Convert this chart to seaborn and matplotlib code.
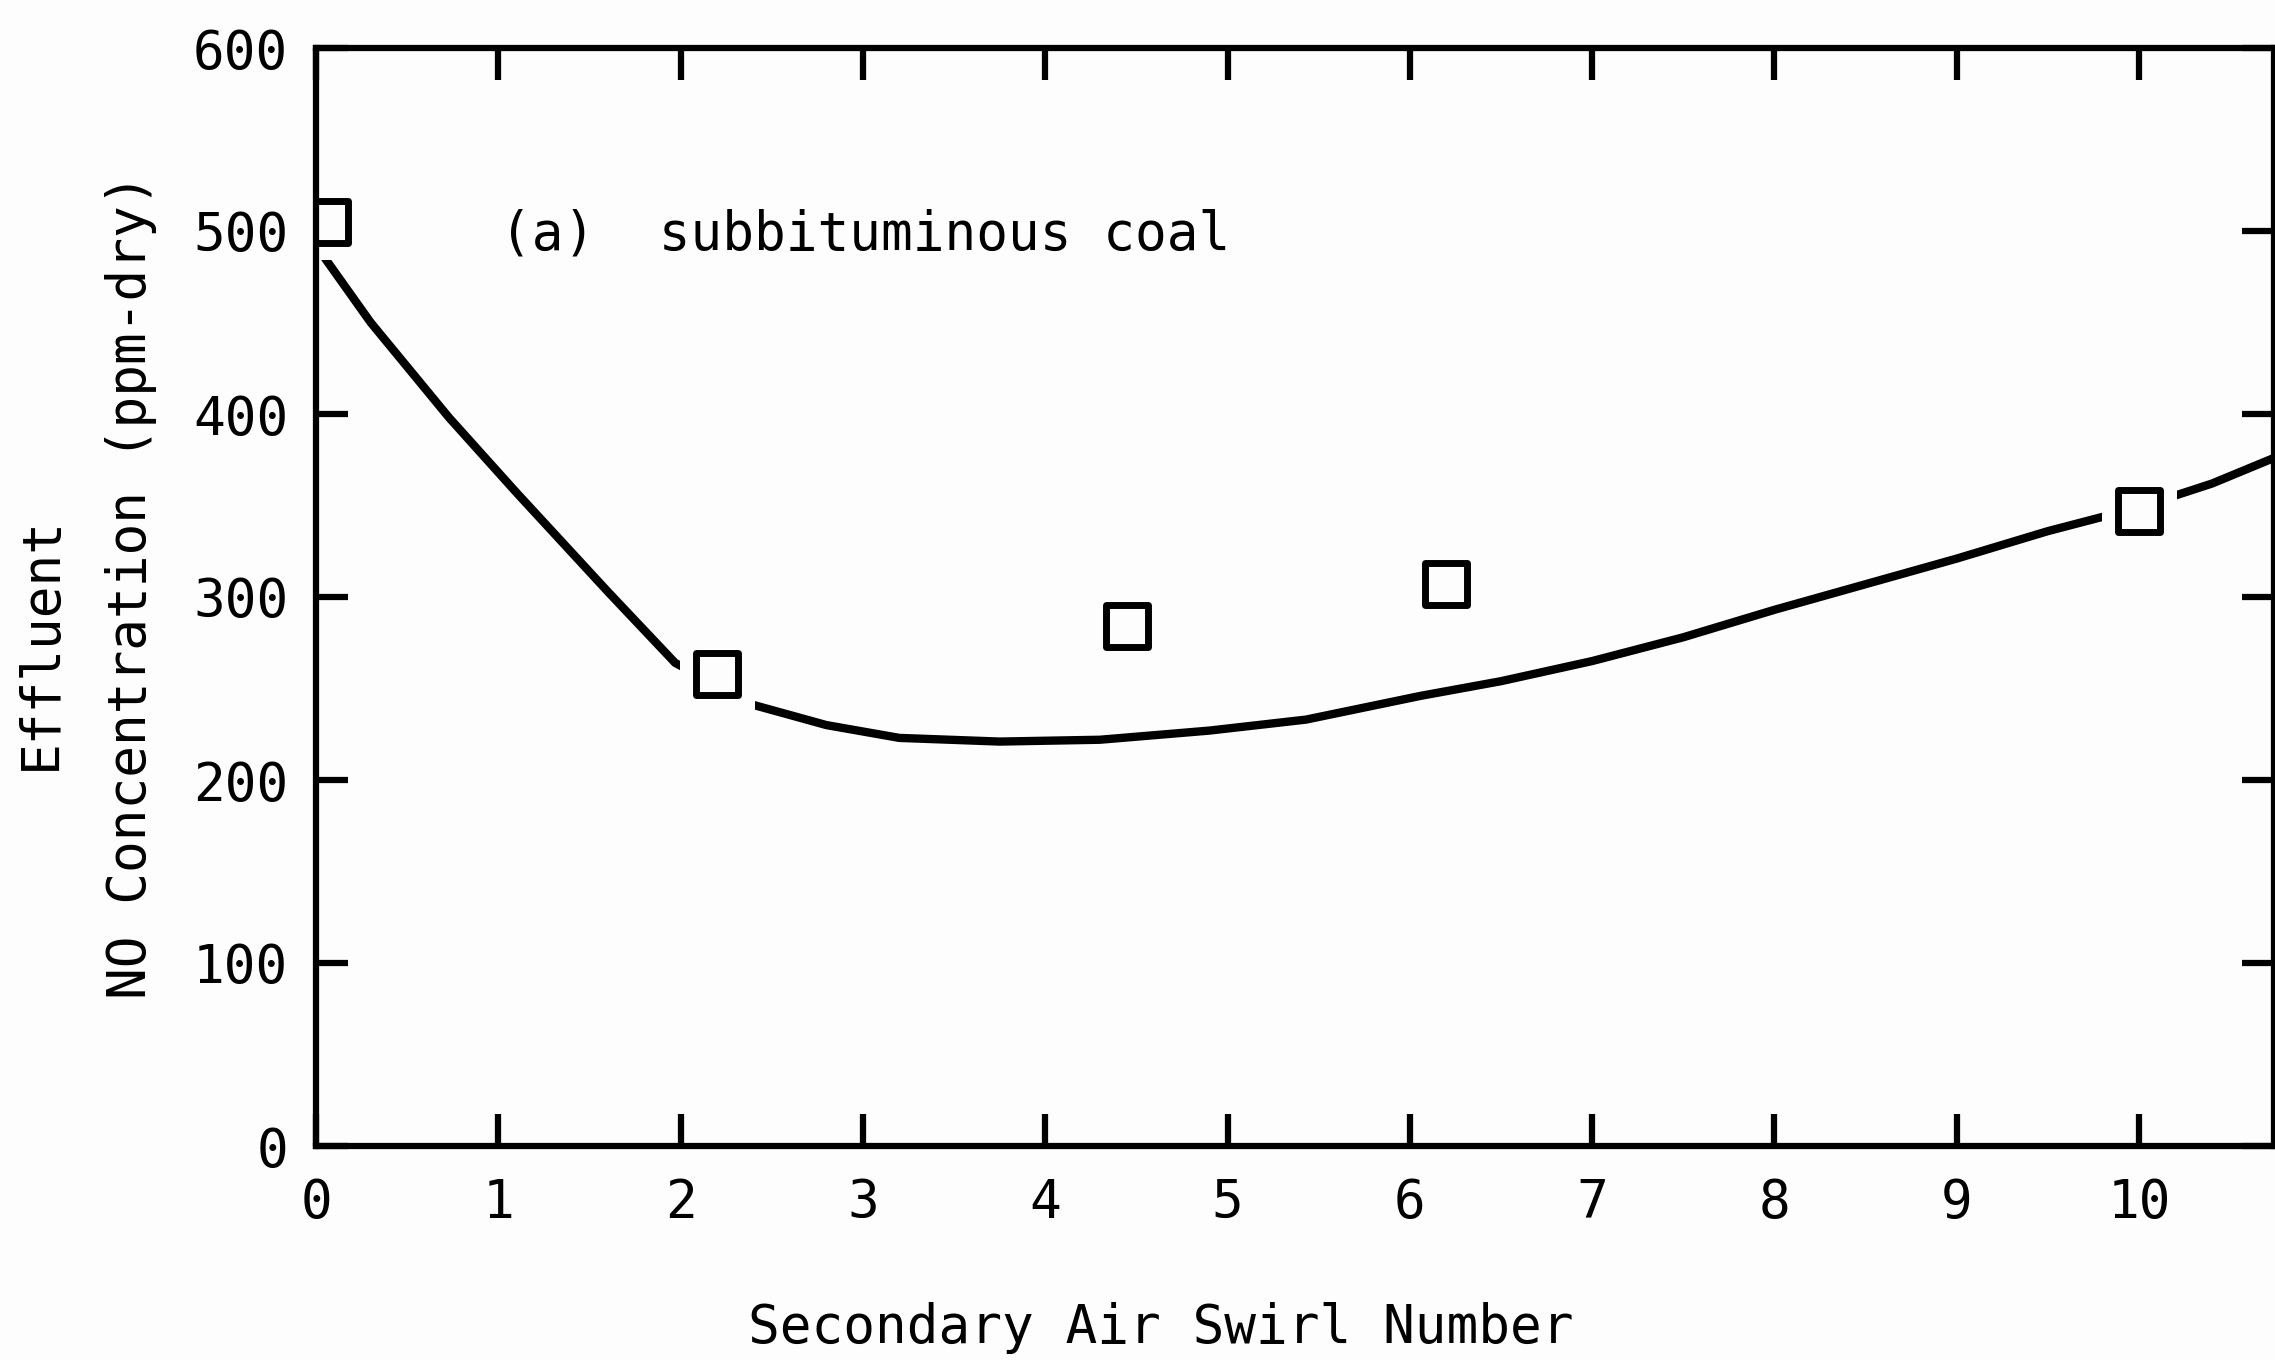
import matplotlib
matplotlib.use("Agg")
import matplotlib.pyplot as plt
import seaborn as sns
import pandas as pd

# ---- data ----
swirl_points = [0.06, 2.2, 4.45, 6.2, 10.0]
no_points = [505, 258, 284, 307, 347]

curve_x = [0.05, 0.3, 0.73, 1.1, 1.6, 1.97, 2.4, 2.8, 3.2, 3.75, 4.3, 4.9,
           5.43, 6.06, 6.5, 7.0, 7.5, 8.0, 8.5, 9.0, 9.5, 10.0, 10.4, 10.74]
curve_y = [485, 450, 398, 357, 303, 264, 241, 230, 223, 221, 222, 227,
           233, 246, 254, 265, 278, 293, 307, 321, 336, 349, 362, 376]

x_ticks = [0, 1, 2, 3, 4, 5, 6, 7, 8, 9, 10]
y_ticks = [0, 100, 200, 300, 400, 500, 600]

xlabel = "Secondary Air Swirl Number"
ylabel_1 = "Effluent"
ylabel_2 = "NO Concentration (ppm-dry)"
annotation = "(a)  subbituminous coal"

pts = pd.DataFrame({"swirl": swirl_points, "no": no_points})
curve = pd.DataFrame({"swirl": curve_x, "no": curve_y})

sns.set_style("ticks")
plt.rcParams["font.family"] = ["DejaVu Sans Mono", "DejaVu Sans"]
plt.rcParams["text.color"] = "black"
plt.rcParams["xtick.color"] = "black"
plt.rcParams["ytick.color"] = "black"
plt.rcParams["xtick.labelcolor"] = "black"
plt.rcParams["ytick.labelcolor"] = "black"

FS = 38
BG = "#fdfdfd"
fig = plt.figure(figsize=(22.75, 13.6), dpi=100)
fig.patch.set_facecolor(BG)
ax = fig.add_axes([316 / 2275, 1 - 1146 / 1360, (2274 - 316) / 2275, (1146 - 48) / 1360])
ax.set_facecolor(BG)

sns.lineplot(data=curve, x="swirl", y="no", ax=ax, color="black", lw=6,
             sort=False, zorder=2)
# white halo creating gaps in the curve around the markers
sns.scatterplot(data=pts, x="swirl", y="no", ax=ax, marker="s", s=54 ** 2,
                color=BG, edgecolor=BG, linewidth=0, zorder=2.1)
sns.scatterplot(data=pts, x="swirl", y="no", ax=ax, marker="s", s=30 ** 2,
                facecolor="none", edgecolor="black", linewidth=5, zorder=3)

ax.set_xlim(0, 10.74)
ax.set_ylim(0, 600)
ax.set_xticks(x_ticks)
ax.set_yticks(y_ticks)
ax.set_xticklabels([str(t) for t in x_ticks])
ax.set_yticklabels([str(t) for t in y_ticks])
ax.set_xlabel("")
ax.set_ylabel("")

for s in ax.spines.values():
    s.set_visible(True)
    s.set_linewidth(4.5)
    s.set_color("black")

ax.tick_params(axis="both", which="major", direction="in", length=23, width=4.5,
               color="black", labelcolor="black", labelsize=FS, top=True, right=True,
               labeltop=False, labelright=False)
ax.tick_params(axis="x", pad=22)
ax.tick_params(axis="y", pad=20)

ax.text(1.01, 498, annotation, fontsize=FS, va="center", ha="left", color="black")

fig.text(1161 / 2275, 1 - 1328 / 1360, xlabel, fontsize=FS, ha="center", va="center",
         color="black")
fig.text(41 / 2275, 1 - 643 / 1360, ylabel_1, fontsize=FS, ha="center", va="center",
         rotation=90, color="black")
fig.text(131 / 2275, 1 - 586 / 1360, ylabel_2, fontsize=FS, ha="center", va="center",
         rotation=90, color="black")

fig.savefig("out.png", dpi=100, facecolor=fig.get_facecolor())
